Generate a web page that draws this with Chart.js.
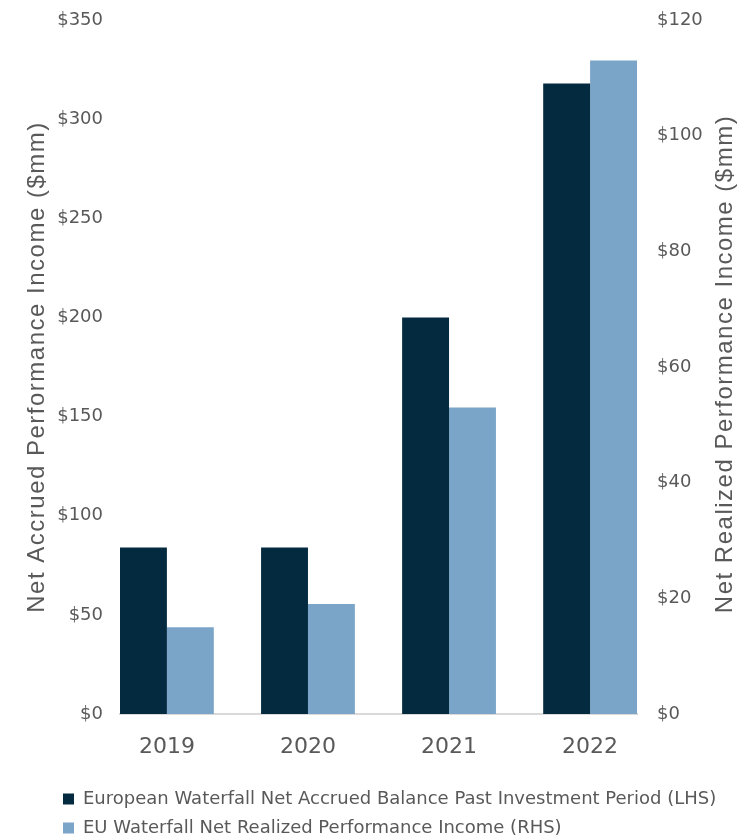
<!DOCTYPE html>
<html>
<head>
<meta charset="utf-8">
<script src="https://cdn.jsdelivr.net/npm/chart.js@4/dist/chart.umd.min.js"></script>
<style>
  html, body { margin: 0; padding: 0; background: #fff; }
  #wrap { width: 739px; height: 837px; position: relative; }
</style>
</head>
<body>
<div id="wrap"><canvas id="perfChart"></canvas></div>
<script>
// Valores
const years = ['2019', '2020', '2021', '2022'];
const accruedLHS = [84, 84, 200, 318];
const realizedRHS = [15, 19, 53, 113];

const leftTicks = [0, 50, 100, 150, 200, 250, 300, 350];
const rightTicks = [0, 20, 40, 60, 80, 100, 120];

const leftTitle = 'Net Accrued Performance Income ($mm)';
const rightTitle = 'Net Realized Performance Income ($mm)';

const textColor = '#595959';
const tickFont = '"DejaVu Sans", sans-serif';
const titleFont = '"Liberation Sans", Arial, sans-serif';
const groupShare = 0.665; // largura do par de barras / passo entre anos

Chart.defaults.font.family = tickFont;
Chart.defaults.color = textColor;

// Títulos dos eixos, ambos lidos de baixo para cima
const axisTitles = {
    id: 'axisTitles',
    afterDraw(chart) {
        const { ctx, chartArea } = chart;
        const mid = (chartArea.top + chartArea.bottom) / 2;
        ctx.save();
        ctx.fillStyle = textColor;
        ctx.font = '24px ' + titleFont;
        ctx.letterSpacing = '1.5px';
        ctx.textAlign = 'center';
        ctx.textBaseline = 'middle';
        [[37, mid, leftTitle], [chart.width - 14, mid - 3, rightTitle]].forEach(([x, y, t]) => {
            ctx.save();
            ctx.translate(x, y);
            ctx.rotate(-Math.PI / 2);
            ctx.fillText(t, 0, 0);
            ctx.restore();
        });
        ctx.restore();
    }
};

// Eixo vertical com largura fixa e sem folga extra em cima
const fitY = width => axis => {
    axis.width = width;
    axis.paddingTop = 0;
    axis.paddingBottom = 0;
};

const ctx = document.getElementById('perfChart').getContext('2d');
new Chart(ctx, {
    type: 'bar',
    data: {
        labels: years,
        datasets: [{
            label: 'European Waterfall Net Accrued Balance Past Investment Period (LHS)',
            data: accruedLHS,
            backgroundColor: '#042a40',
            yAxisID: 'y',
            categoryPercentage: groupShare,
            barPercentage: 1.0
        }, {
            label: 'EU Waterfall Net Realized Performance Income (RHS)',
            data: realizedRHS,
            backgroundColor: '#7aa5c8',
            yAxisID: 'y1',
            categoryPercentage: groupShare,
            barPercentage: 1.0
        }]
    },
    plugins: [axisTitles],
    options: {
        responsive: true,
        maintainAspectRatio: false,
        animation: false,
        layout: { padding: { top: 20, left: 52, right: 0, bottom: -10 } },
        plugins: {
            tooltip: { enabled: false },
            legend: {
                position: 'bottom',
                align: 'start',
                labels: {
                    color: textColor,
                    font: { size: 18, family: tickFont },
                    boxWidth: 11,
                    boxHeight: 11,
                    padding: 11
                }
            }
        },
        scales: {
            x: {
                // as barras das pontas encostam no início e no fim do eixo
                afterBuildTicks: axis => {
                    axis._startValue = -groupShare / 2;
                    axis._valueRange = years.length - 1 + groupShare;
                },
                afterFit: axis => { axis.height = 65; },
                grid: { display: false, drawTicks: false },
                border: { color: '#d9d9d9', width: 2 },
                ticks: { color: textColor, font: { size: 22 }, padding: 20 }
            },
            y: {
                position: 'left',
                min: 0,
                max: 350,
                afterBuildTicks: axis => { axis.ticks = leftTicks.map(v => ({ value: v })); },
                afterFit: fitY(68),
                grid: { display: false, drawTicks: false },
                border: { display: false },
                ticks: { color: textColor, font: { size: 18 }, padding: 17, callback: v => '$' + v }
            },
            y1: {
                position: 'right',
                min: 0,
                max: 120,
                afterBuildTicks: axis => { axis.ticks = rightTicks.map(v => ({ value: v })); },
                afterFit: fitY(102),
                grid: { display: false, drawTicks: false },
                border: { display: false },
                ticks: { color: textColor, font: { size: 18 }, padding: 20, callback: v => '$' + v }
            }
        }
    }
});
</script>
</body>
</html>
